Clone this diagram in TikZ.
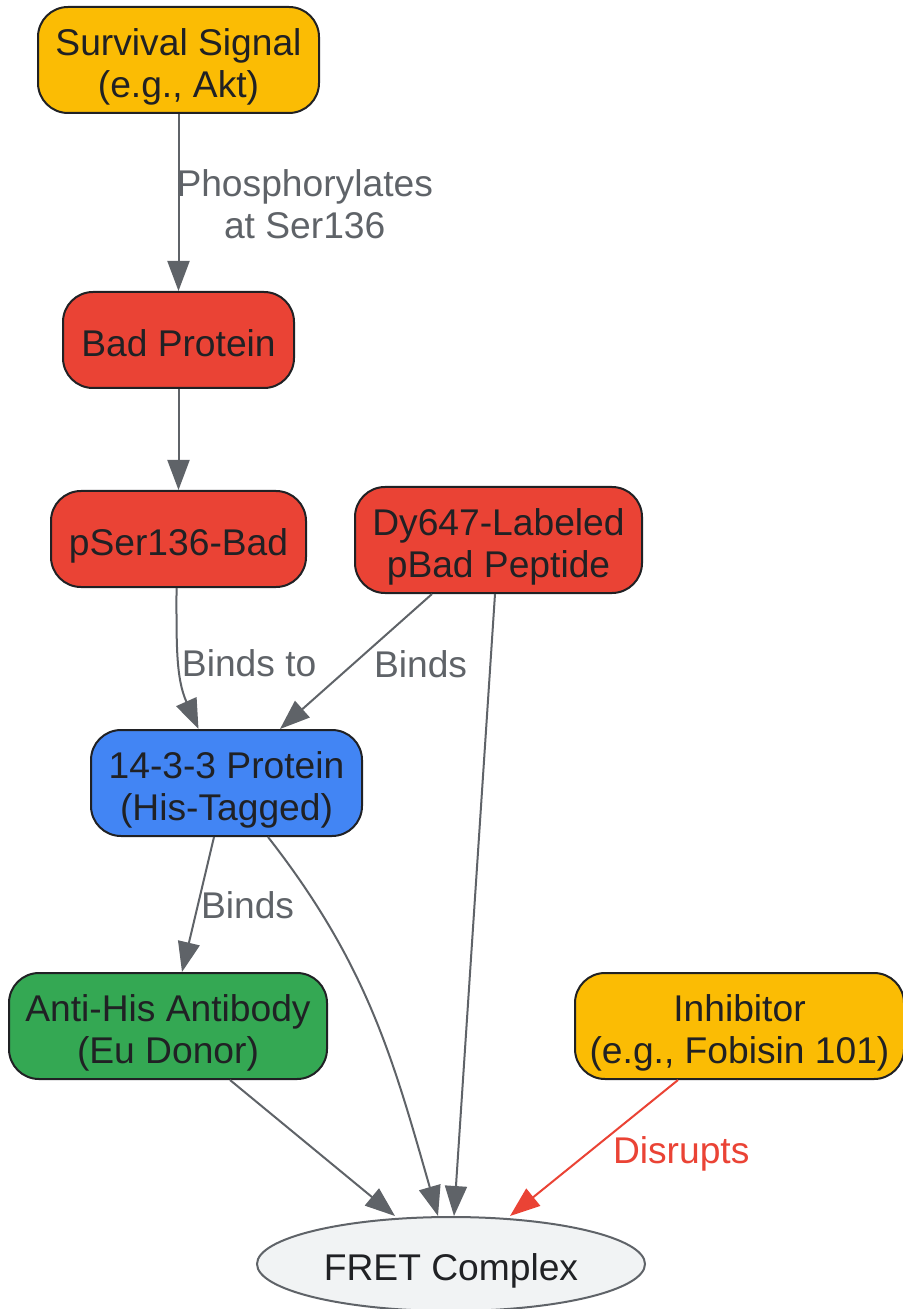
\documentclass[tikz,border=0pt]{standalone}
\usepackage{fontspec}
\setmainfont{Liberation Sans}
\usetikzlibrary{arrows.meta,shapes.geometric,positioning}

\definecolor{sigyellow}{HTML}{FBBC04}
\definecolor{badred}{HTML}{EA4335}
\definecolor{protblue}{HTML}{4285F4}
\definecolor{donorgreen}{HTML}{34A853}
\definecolor{complexgray}{HTML}{F1F3F4}
\definecolor{linkgray}{HTML}{5F6368}
\definecolor{ink}{HTML}{202124}
\definecolor{boxline}{HTML}{202124}

\def\labelfont{\fontsize{18.6}{21}\selectfont}
% struts keep text at the same height in every box
\def\tstrut{\rule{0pt}{21.3pt}}
\def\bstrut{\rule[-5pt]{0pt}{0pt}}

\tikzset{
  box/.style={draw=boxline, line width=1pt, rounded corners=15pt, align=center,
    text=ink, font=\labelfont, inner sep=0pt},
  link/.style={draw=linkgray, line width=1pt,
    -{Triangle[length=15pt,width=11pt]}},
  tag/.style={text=linkgray, font=\labelfont, align=center, inner sep=0pt},
}

\begin{document}
\begin{tikzpicture}[x=0.5pt,y=-0.5pt]
\useasboundingbox (0,0) rectangle (902,1309);

% nodes
\node[box, fill=sigyellow, minimum width=140.5pt, minimum height=53pt] (signal) at (178.5,60) {\tstrut Survival Signal\\(e.g., Akt)\bstrut};
\node[box, fill=badred, minimum width=115.5pt, minimum height=48pt] (bad) at (178.5,340) {\tstrut Bad Protein\bstrut};
\node[box, fill=badred, minimum width=127.5pt, minimum height=48pt] (pbad) at (178.5,539) {\tstrut pSer136-Bad\bstrut};
\node[box, fill=badred, minimum width=143.5pt, minimum height=53pt] (peptide) at (498.5,540) {\tstrut Dy647-Labeled\\pBad Peptide\bstrut};
\node[box, fill=protblue, minimum width=135.5pt, minimum height=53pt] (protein) at (226.5,783) {\tstrut 14-3-3 Protein\\(His-Tagged)\bstrut};
\node[box, fill=donorgreen, minimum width=159pt, minimum height=53pt] (antibody) at (168,1026) {\tstrut Anti-His Antibody\\(Eu Donor)\bstrut};
\node[box, fill=sigyellow, minimum width=164.5pt, minimum height=53pt] (inhibitor) at (739.5,1026) {\tstrut Inhibitor\\(e.g., Fobisin 101)\bstrut};
\node[ellipse, draw=linkgray, line width=1pt, fill=complexgray, text=ink, font=\labelfont,
  minimum width=194pt, minimum height=47pt, inner sep=0pt] (fret) at (451,1264) {\tstrut FRET Complex\bstrut};

% connectors
\draw[link] (signal) -- (bad)
  node[tag, midway, anchor=west, xshift=-1.5pt, yshift=-1pt] {Phosphorylates\\at Ser136};
\draw[link] (bad) -- (pbad);
\draw[link] ([xshift=-1pt]pbad.south) to[out=-90, in=114]
  node[tag, pos=0.5, anchor=west, xshift=1pt, yshift=-1.5pt] {Binds to} ([xshift=-14pt]protein.north);
\draw[link] ([xshift=-33.25pt]peptide.south) --
  node[tag, anchor=west, xshift=8.5pt, yshift=-1.5pt] {Binds} ([xshift=26.75pt]protein.north);
\draw[link] ([xshift=-1.75pt]peptide.south) -- ([xshift=1.5pt]fret.north);
\draw[link] ([xshift=-6.25pt]protein.south) --
  node[tag, anchor=west, xshift=1pt, yshift=-0.5pt] {Binds} ([xshift=7pt]antibody.north);
\draw[link] ([xshift=20.75pt]protein.south) to[out=-52, in=106] ([xshift=-6.5pt]fret.north);
\draw[link] ([xshift=31pt]antibody.south) -- ([xshift=-28pt]fret.north);
\draw[link, draw=badred] ([xshift=-30.75pt]inhibitor.south) --
  node[tag, text=badred, anchor=west, xshift=9pt, yshift=-3pt] {Disrupts} ([xshift=29.5pt]fret.north);
\end{tikzpicture}
\end{document}
